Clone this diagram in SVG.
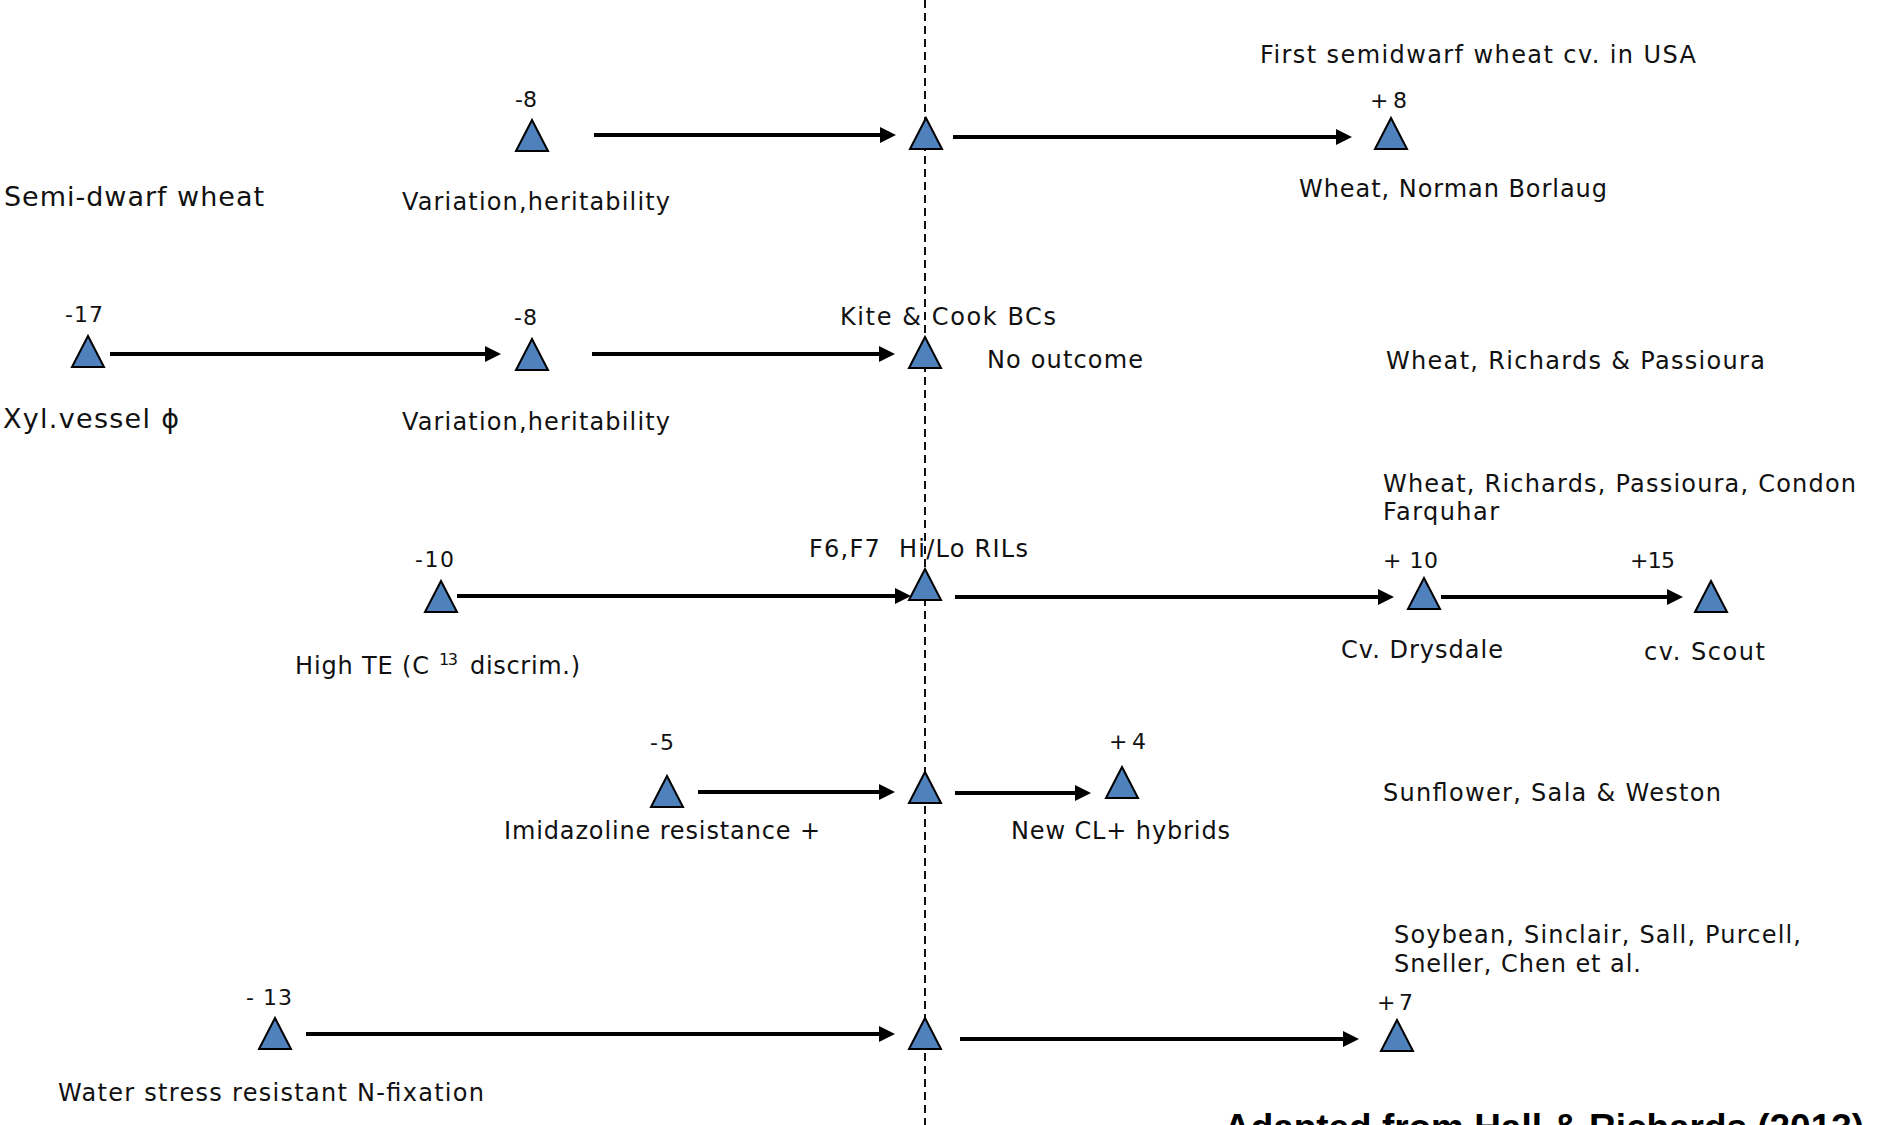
<svg xmlns="http://www.w3.org/2000/svg" xmlns:xlink="http://www.w3.org/1999/xlink" width="1882" height="1125" viewBox="0 0 1882 1125">
<style>
text{font-family:"DejaVu Sans","Liberation Sans",sans-serif;fill:#111;font-size:24px}
.big{font-size:27px}
.num{font-size:22px}
.sup{font-size:16px}
.credit{font-family:"Liberation Sans",Arial,sans-serif;font-weight:bold;font-size:37px;fill:#000}
.tri{fill:#4F81BD;stroke:#000;stroke-width:2;stroke-linejoin:miter}
.arr{stroke:#000;stroke-width:4;fill:none;marker-end:url(#ah)}
.axis{stroke:#111;stroke-width:2;stroke-dasharray:8 5;fill:none}
</style>
<defs>
<marker id="ah" markerUnits="userSpaceOnUse" markerWidth="18" markerHeight="18" refX="2" refY="8" orient="auto">
<path d="M0,0 L16,8 L0,16 Z" fill="#000"/>
</marker>
<path id="tri" d="M0,-31 L16,0 L-16,0 Z"/>
</defs>

<line class="axis" x1="925" y1="0" x2="925" y2="1125"/>

<g id="connectors">
<line class="arr" x1="594" y1="135" x2="882" y2="135"/>
<line class="arr" x1="953" y1="137" x2="1338" y2="137"/>
<line class="arr" x1="110" y1="354" x2="487" y2="354"/>
<line class="arr" x1="592" y1="354" x2="881" y2="354"/>
<line class="arr" x1="457" y1="596" x2="897" y2="596"/>
<line class="arr" x1="955" y1="597" x2="1380" y2="597"/>
<line class="arr" x1="1441" y1="597" x2="1669" y2="597"/>
<line class="arr" x1="698" y1="792" x2="881" y2="792"/>
<line class="arr" x1="955" y1="793" x2="1077" y2="793"/>
<line class="arr" x1="306" y1="1034" x2="881" y2="1034"/>
<line class="arr" x1="960" y1="1039" x2="1345" y2="1039"/>
</g>

<g id="n-semidwarf-label"><text class="big" x="4" y="206" textLength="260" lengthAdjust="spacing">Semi-dwarf wheat</text></g>
<g id="n-r1-a">
<use href="#tri" class="tri" x="532" y="151"/>
<text class="num" x="515" y="107" textLength="22" lengthAdjust="spacing">-8</text>
<text x="402" y="210" textLength="268" lengthAdjust="spacing">Variation,heritability</text>
</g>
<g id="n-r1-c"><use href="#tri" class="tri" x="926" y="149"/></g>
<g id="n-r1-b">
<use href="#tri" class="tri" x="1391" y="149"/>
<text class="num" x="1370" y="108" textLength="37" lengthAdjust="spacing">+ 8</text>
<text x="1260" y="63" textLength="436" lengthAdjust="spacing">First semidwarf wheat cv. in USA</text>
<text x="1299" y="197" textLength="308" lengthAdjust="spacing">Wheat, Norman Borlaug</text>
</g>

<g id="n-xyl-label"><text class="big" x="3" y="428" textLength="176" lengthAdjust="spacing">Xyl.vessel ϕ</text></g>
<g id="n-r2-a">
<use href="#tri" class="tri" x="88" y="367"/>
<text class="num" x="65" y="322" textLength="38" lengthAdjust="spacing">-17</text>
</g>
<g id="n-r2-b">
<use href="#tri" class="tri" x="532" y="370"/>
<text class="num" x="514" y="325" textLength="23" lengthAdjust="spacing">-8</text>
<text x="402" y="430" textLength="268" lengthAdjust="spacing">Variation,heritability</text>
</g>
<g id="n-r2-c">
<use href="#tri" class="tri" x="925" y="368"/>
<text x="840" y="325" textLength="216" lengthAdjust="spacing">Kite &amp; Cook BCs</text>
<text x="987" y="368" textLength="156" lengthAdjust="spacing">No outcome</text>
</g>
<g id="n-r2-ref"><text x="1386" y="369" textLength="379" lengthAdjust="spacing">Wheat, Richards &amp; Passioura</text></g>

<g id="n-r3-a">
<use href="#tri" class="tri" x="441" y="612"/>
<text class="num" x="415" y="567" textLength="39" lengthAdjust="spacing">-10</text>
<text x="295" y="674" textLength="134" lengthAdjust="spacing">High TE (C</text>
<text class="sup" x="439" y="665" textLength="19" lengthAdjust="spacing">13</text>
<text x="470" y="674" textLength="110" lengthAdjust="spacing">discrim.)</text>
</g>
<g id="n-r3-c">
<use href="#tri" class="tri" x="925" y="600"/>
<text x="809" y="557" textLength="219" lengthAdjust="spacing" xml:space="preserve">F6,F7  Hi/Lo RILs</text>
</g>
<g id="n-r3-b">
<use href="#tri" class="tri" x="1424" y="609"/>
<text class="num" x="1383" y="568" textLength="55" lengthAdjust="spacing">+ 10</text>
<text x="1383" y="492" textLength="473" lengthAdjust="spacing">Wheat, Richards, Passioura, Condon</text>
<text x="1383" y="520" textLength="116" lengthAdjust="spacing">Farquhar</text>
<text x="1341" y="658" textLength="162" lengthAdjust="spacing">Cv. Drysdale</text>
</g>
<g id="n-r3-d">
<use href="#tri" class="tri" x="1711" y="612"/>
<text class="num" x="1630" y="568" textLength="45" lengthAdjust="spacing">+15</text>
<text x="1644" y="660" textLength="121" lengthAdjust="spacing">cv. Scout</text>
</g>

<g id="n-r4-a">
<use href="#tri" class="tri" x="667" y="807"/>
<text class="num" x="650" y="750" textLength="24" lengthAdjust="spacing">-5</text>
<text x="504" y="839" textLength="316" lengthAdjust="spacing">Imidazoline resistance +</text>
</g>
<g id="n-r4-c"><use href="#tri" class="tri" x="925" y="803"/></g>
<g id="n-r4-b">
<use href="#tri" class="tri" x="1122" y="798"/>
<text class="num" x="1109" y="749" textLength="37" lengthAdjust="spacing">+ 4</text>
<text x="1011" y="839" textLength="219" lengthAdjust="spacing">New CL+ hybrids</text>
</g>
<g id="n-r4-ref"><text x="1383" y="801" textLength="338" lengthAdjust="spacing">Sunflower, Sala &amp; Weston</text></g>

<g id="n-r5-a">
<use href="#tri" class="tri" x="275" y="1049"/>
<text class="num" x="246" y="1005" textLength="46" lengthAdjust="spacing">- 13</text>
<text x="58" y="1101" textLength="426" lengthAdjust="spacing">Water stress resistant N-fixation</text>
</g>
<g id="n-r5-c"><use href="#tri" class="tri" x="925" y="1049"/></g>
<g id="n-r5-b">
<use href="#tri" class="tri" x="1397" y="1051"/>
<text class="num" x="1377" y="1010" textLength="36" lengthAdjust="spacing">+ 7</text>
<text x="1394" y="943" textLength="407" lengthAdjust="spacing">Soybean, Sinclair, Sall, Purcell,</text>
<text x="1394" y="972" textLength="247" lengthAdjust="spacing">Sneller, Chen et al.</text>
</g>

<g id="credit"><text class="credit" x="1224" y="1140" textLength="640" lengthAdjust="spacingAndGlyphs">Adapted from Hall &amp; Richards (2013)</text></g>
</svg>
